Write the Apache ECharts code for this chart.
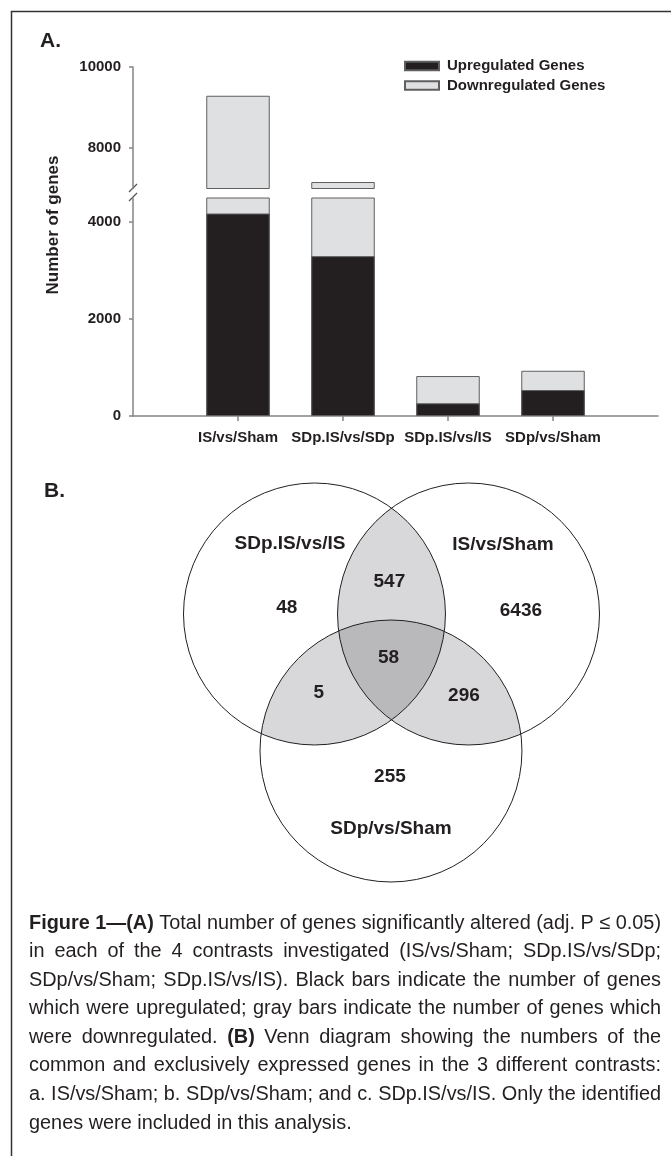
<!DOCTYPE html>
<html><head><meta charset="utf-8">
<script src="https://cdn.jsdelivr.net/npm/echarts@6/dist/echarts.min.js"></script>
<style>html,body{margin:0;padding:0;background:#fff}#c{width:671px;height:1156px}</style>
</head><body><div id="c"></div>
<script>
// ---------- data ----------
const categories = ['IS/vs/Sham', 'SDp.IS/vs/SDp', 'SDp.IS/vs/IS', 'SDp/vs/Sham'];
const upregulated = [4180, 3300, 262, 536];
const downregulated = [5110, 3860, 563, 398];
const seriesNames = ['Upregulated Genes', 'Downregulated Genes'];
const upperTicks = [8000, 10000];
const lowerTicks = [0, 2000, 4000];
const vennSets = ['SDp.IS/vs/IS', 'IS/vs/Sham', 'SDp/vs/Sham'];
const vennRegions = ['A', 'B', 'C', 'AB', 'AC', 'BC', 'ABC'];
const vennCounts = [48, 6436, 255, 547, 5, 296, 58];

// ---------- layout / style ----------
const FONT = '"Liberation Sans", Arial, sans-serif';
const CAP_FONT = '"Liberation Sans", Arial, sans-serif';
const INK = '#231f20', BAR_GRAY = '#dfe0e2', EDGE = '#5f5f5f', AXIS = '#858585';
const LIGHT = '#d8d8da', DARK = '#b9b9bc';
const VENN = {
  r: 1,
  centers: { A: [0, 0], B: [1.176, 0], C: [0.584, -1.046] },
  setLabelPos: { A: [-0.187, 0.534], B: [1.439, 0.527], C: [0.584, -1.641] },
  regionPos: { A: [-0.212, 0.046], B: [1.576, 0.025], C: [0.576, -1.242], AB: [0.572, 0.247],
               AC: [0.033, -0.603], BC: [1.141, -0.624], ABC: [0.565, -0.336] }
};
const setKeys = ['A', 'B', 'C'];

const totals = upregulated.map((u, i) => u + downregulated[i]);

function barPair(g) {
  return [
    { type: 'bar', name: seriesNames[1], xAxisIndex: g, yAxisIndex: g, barWidth: 63.5, barGap: '-100%',
      data: totals.map((v, i) => [i + 1, v]), clip: true, z: 2,
      itemStyle: { color: BAR_GRAY, borderColor: EDGE, borderWidth: 1 } },
    { type: 'bar', name: seriesNames[0], xAxisIndex: g, yAxisIndex: g, barWidth: 63.5, barGap: '-100%',
      data: upregulated.map((v, i) => [i + 1, v]), clip: true, z: 3,
      itemStyle: { color: INK, borderColor: EDGE, borderWidth: 1 } }
  ];
}

function yAxisCfg(g, min, max, ticks) {
  return { gridIndex: g, type: 'value', min, max,
    axisLine: { show: true, lineStyle: { color: AXIS, width: 1.5 } },
    axisTick: { show: true, customValues: ticks, length: 4, lineStyle: { color: AXIS, width: 1.5 } },
    axisLabel: { show: true, customValues: ticks, formatter: v => String(v), margin: 12, fontSize: 15,
      fontWeight: 'bold', color: INK, fontFamily: FONT },
    splitLine: { show: false } };
}

// ---------- caption (justified) ----------
const CAPTION = [
  [['Figure 1\u2014(A)', 1], [' Total number of genes significantly altered (adj. P \u2264 0.05)', 0]],
  [['in each of the 4 contrasts investigated (IS/vs/Sham; SDp.IS/vs/SDp;', 0]],
  [['SDp/vs/Sham; SDp.IS/vs/IS). Black bars indicate the number of genes', 0]],
  [['which were upregulated; gray bars indicate the number of genes which', 0]],
  [['were downregulated. ', 0], ['(B)', 1], [' Venn diagram showing the numbers of the', 0]],
  [['common and exclusively expressed genes in the 3 different contrasts:', 0]],
  [['a. IS/vs/Sham; b. SDp/vs/Sham; and c. SDp.IS/vs/IS. Only the identified', 0]],
  [['genes were included in this analysis.', 0]]
];
const CAP = { x0: 29, x1: 661, y0: 923, dy: 28.57, size: 20 };
const ctx = document.createElement('canvas').getContext('2d');
const capFont = b => (b ? 'bold ' : '') + CAP.size + 'px ' + CAP_FONT;
ctx.font = capFont(0);
const SPACE = ctx.measureText(' ').width;
const capLines = CAPTION.map(segs => {
  const words = [];
  segs.forEach(([t, b]) => t.split(' ').filter(w => w).forEach(w => words.push({ w, b })));
  words.forEach(o => { ctx.font = capFont(o.b); o.wd = ctx.measureText(o.w).width; });
  const tot = words.reduce((s, o) => s + o.wd, 0);
  return { words, tot, nat: tot + SPACE * (words.length - 1) };
});
const maxNat = Math.max(...capLines.map(l => l.nat));
const SX = Math.min(1, (CAP.x1 - CAP.x0) / maxNat);
const capEls = [];
capLines.forEach((ln, li) => {
  const last = li === capLines.length - 1;
  const gap = last ? SPACE * SX : (CAP.x1 - CAP.x0 - ln.tot * SX) / (ln.words.length - 1);
  let x = CAP.x0;
  const y = CAP.y0 + li * CAP.dy;
  ln.words.forEach(o => {
    capEls.push({ type: 'text', x, y, scaleX: SX, silent: true,
      style: { text: o.w, font: capFont(o.b), fill: INK, align: 'left', verticalAlign: 'middle' } });
    x += o.wd * SX + gap;
  });
});

// ---------- chart ----------
const chart = echarts.init(document.getElementById('c'));
const overlapKeys = vennRegions.filter(k => k.length > 1);
function circ(api, s) {
  const c = api.coord(VENN.centers[s]);
  const sz = api.size([VENN.r, VENN.r]);
  return { cx: c[0], cy: c[1], r: sz[0] };
}

const option = {
  animation: false,
  textStyle: { fontFamily: FONT },
  legend: {
    data: seriesNames, orient: 'vertical', left: 404, top: 58.5, padding: 0, icon: 'rect',
    itemWidth: 34, itemHeight: 8.5, itemGap: 4.5, selectedMode: false,
    textStyle: { fontSize: 15, fontWeight: 'bold', color: INK, lineHeight: 15, padding: [0, 0, 0, 3] }
  },
  grid: [
    { left: 133, top: 67, width: 525, height: 121.5 },
    { left: 133, top: 198, width: 525, height: 218 },
    { left: 183.5, top: 483, width: 416, height: 399 }
  ],
  xAxis: [
    { gridIndex: 0, type: 'value', min: 0, max: 5, show: false },
    { gridIndex: 1, type: 'value', min: 0, max: 5,
      axisLine: { show: true, onZero: false, lineStyle: { color: AXIS, width: 1.5 } },
      axisTick: { show: true, customValues: [1, 2, 3, 4], length: 5, lineStyle: { color: AXIS, width: 1.5 } },
      axisLabel: { show: true, customValues: [1, 2, 3, 4], formatter: v => categories[Math.round(v) - 1],
        margin: 14, fontSize: 15, fontWeight: 'bold', color: INK, fontFamily: FONT },
      splitLine: { show: false } },
    { gridIndex: 2, type: 'value', min: -1, max: 2.176, show: false }
  ],
  yAxis: [
    yAxisCfg(0, 7000, 10000, upperTicks),
    yAxisCfg(1, 0, 4500, lowerTicks),
    { gridIndex: 2, type: 'value', min: -2.046, max: 1, show: false }
  ],
  series: [
    ...barPair(0),
    ...barPair(1),
    { type: 'custom', coordinateSystem: 'cartesian2d', xAxisIndex: 2, yAxisIndex: 2, z: 1, silent: true,
      data: overlapKeys.map(k => VENN.regionPos[k]),
      renderItem(params, api) {
        const s = overlapKeys[params.dataIndex].split('');
        if (s.length === 2) {
          return { type: 'circle', shape: circ(api, s[1]), style: { fill: LIGHT },
                   clipPath: { type: 'circle', shape: circ(api, s[0]) } };
        }
        return { type: 'group', clipPath: { type: 'circle', shape: circ(api, s[0]) },
          children: [{ type: 'circle', shape: circ(api, s[2]), style: { fill: DARK },
                       clipPath: { type: 'circle', shape: circ(api, s[1]) } }] };
      } },
    { type: 'custom', coordinateSystem: 'cartesian2d', xAxisIndex: 2, yAxisIndex: 2, z: 2, silent: true,
      data: vennSets.map((n, i) => ({ name: n, value: VENN.centers[setKeys[i]] })),
      renderItem(params, api) {
        const k = setKeys[params.dataIndex];
        const lp = api.coord(VENN.setLabelPos[k]);
        return { type: 'group', children: [
          { type: 'circle', shape: circ(api, k), style: { fill: 'none', stroke: INK, lineWidth: 1 } },
          { type: 'text', x: lp[0], y: lp[1], style: { text: vennSets[params.dataIndex], fill: INK,
            font: 'bold 19px ' + FONT, align: 'center', verticalAlign: 'middle' } }
        ] };
      } },
    { type: 'custom', coordinateSystem: 'cartesian2d', xAxisIndex: 2, yAxisIndex: 2, z: 3, silent: true,
      data: vennRegions.map((k, i) => ({ name: k, value: [VENN.regionPos[k][0], VENN.regionPos[k][1], vennCounts[i]] })),
      renderItem(params, api) {
        const p = api.coord([api.value(0), api.value(1)]);
        return { type: 'text', x: p[0], y: p[1], style: { text: String(api.value(2)), fill: INK,
          font: 'bold 19px ' + FONT, align: 'center', verticalAlign: 'middle' } };
      } }
  ],
  graphic: { elements: [
    { type: 'polyline', silent: true, shape: { points: [[11.5, 1156], [11.5, 11.5], [671, 11.5]] },
      style: { stroke: '#333', lineWidth: 1.5, fill: null } },
    { type: 'text', x: 40, y: 41, silent: true, style: { text: 'A.', font: 'bold 21px ' + FONT, fill: INK, align: 'left', verticalAlign: 'middle' } },
    { type: 'text', x: 44, y: 491, silent: true, style: { text: 'B.', font: 'bold 21px ' + FONT, fill: INK, align: 'left', verticalAlign: 'middle' } },
    { type: 'text', x: 53, y: 225, rotation: Math.PI / 2, silent: true,
      style: { text: 'Number of genes', font: 'bold 17px ' + FONT, fill: INK, align: 'center', verticalAlign: 'middle' } },
    { type: 'line', silent: true, shape: { x1: 129, y1: 192, x2: 137, y2: 184 }, style: { stroke: '#555', lineWidth: 1.2 } },
    { type: 'line', silent: true, shape: { x1: 129, y1: 201, x2: 137, y2: 193 }, style: { stroke: '#555', lineWidth: 1.2 } },
    ...capEls
  ] }
};
chart.setOption(option);
</script>
</body></html>
